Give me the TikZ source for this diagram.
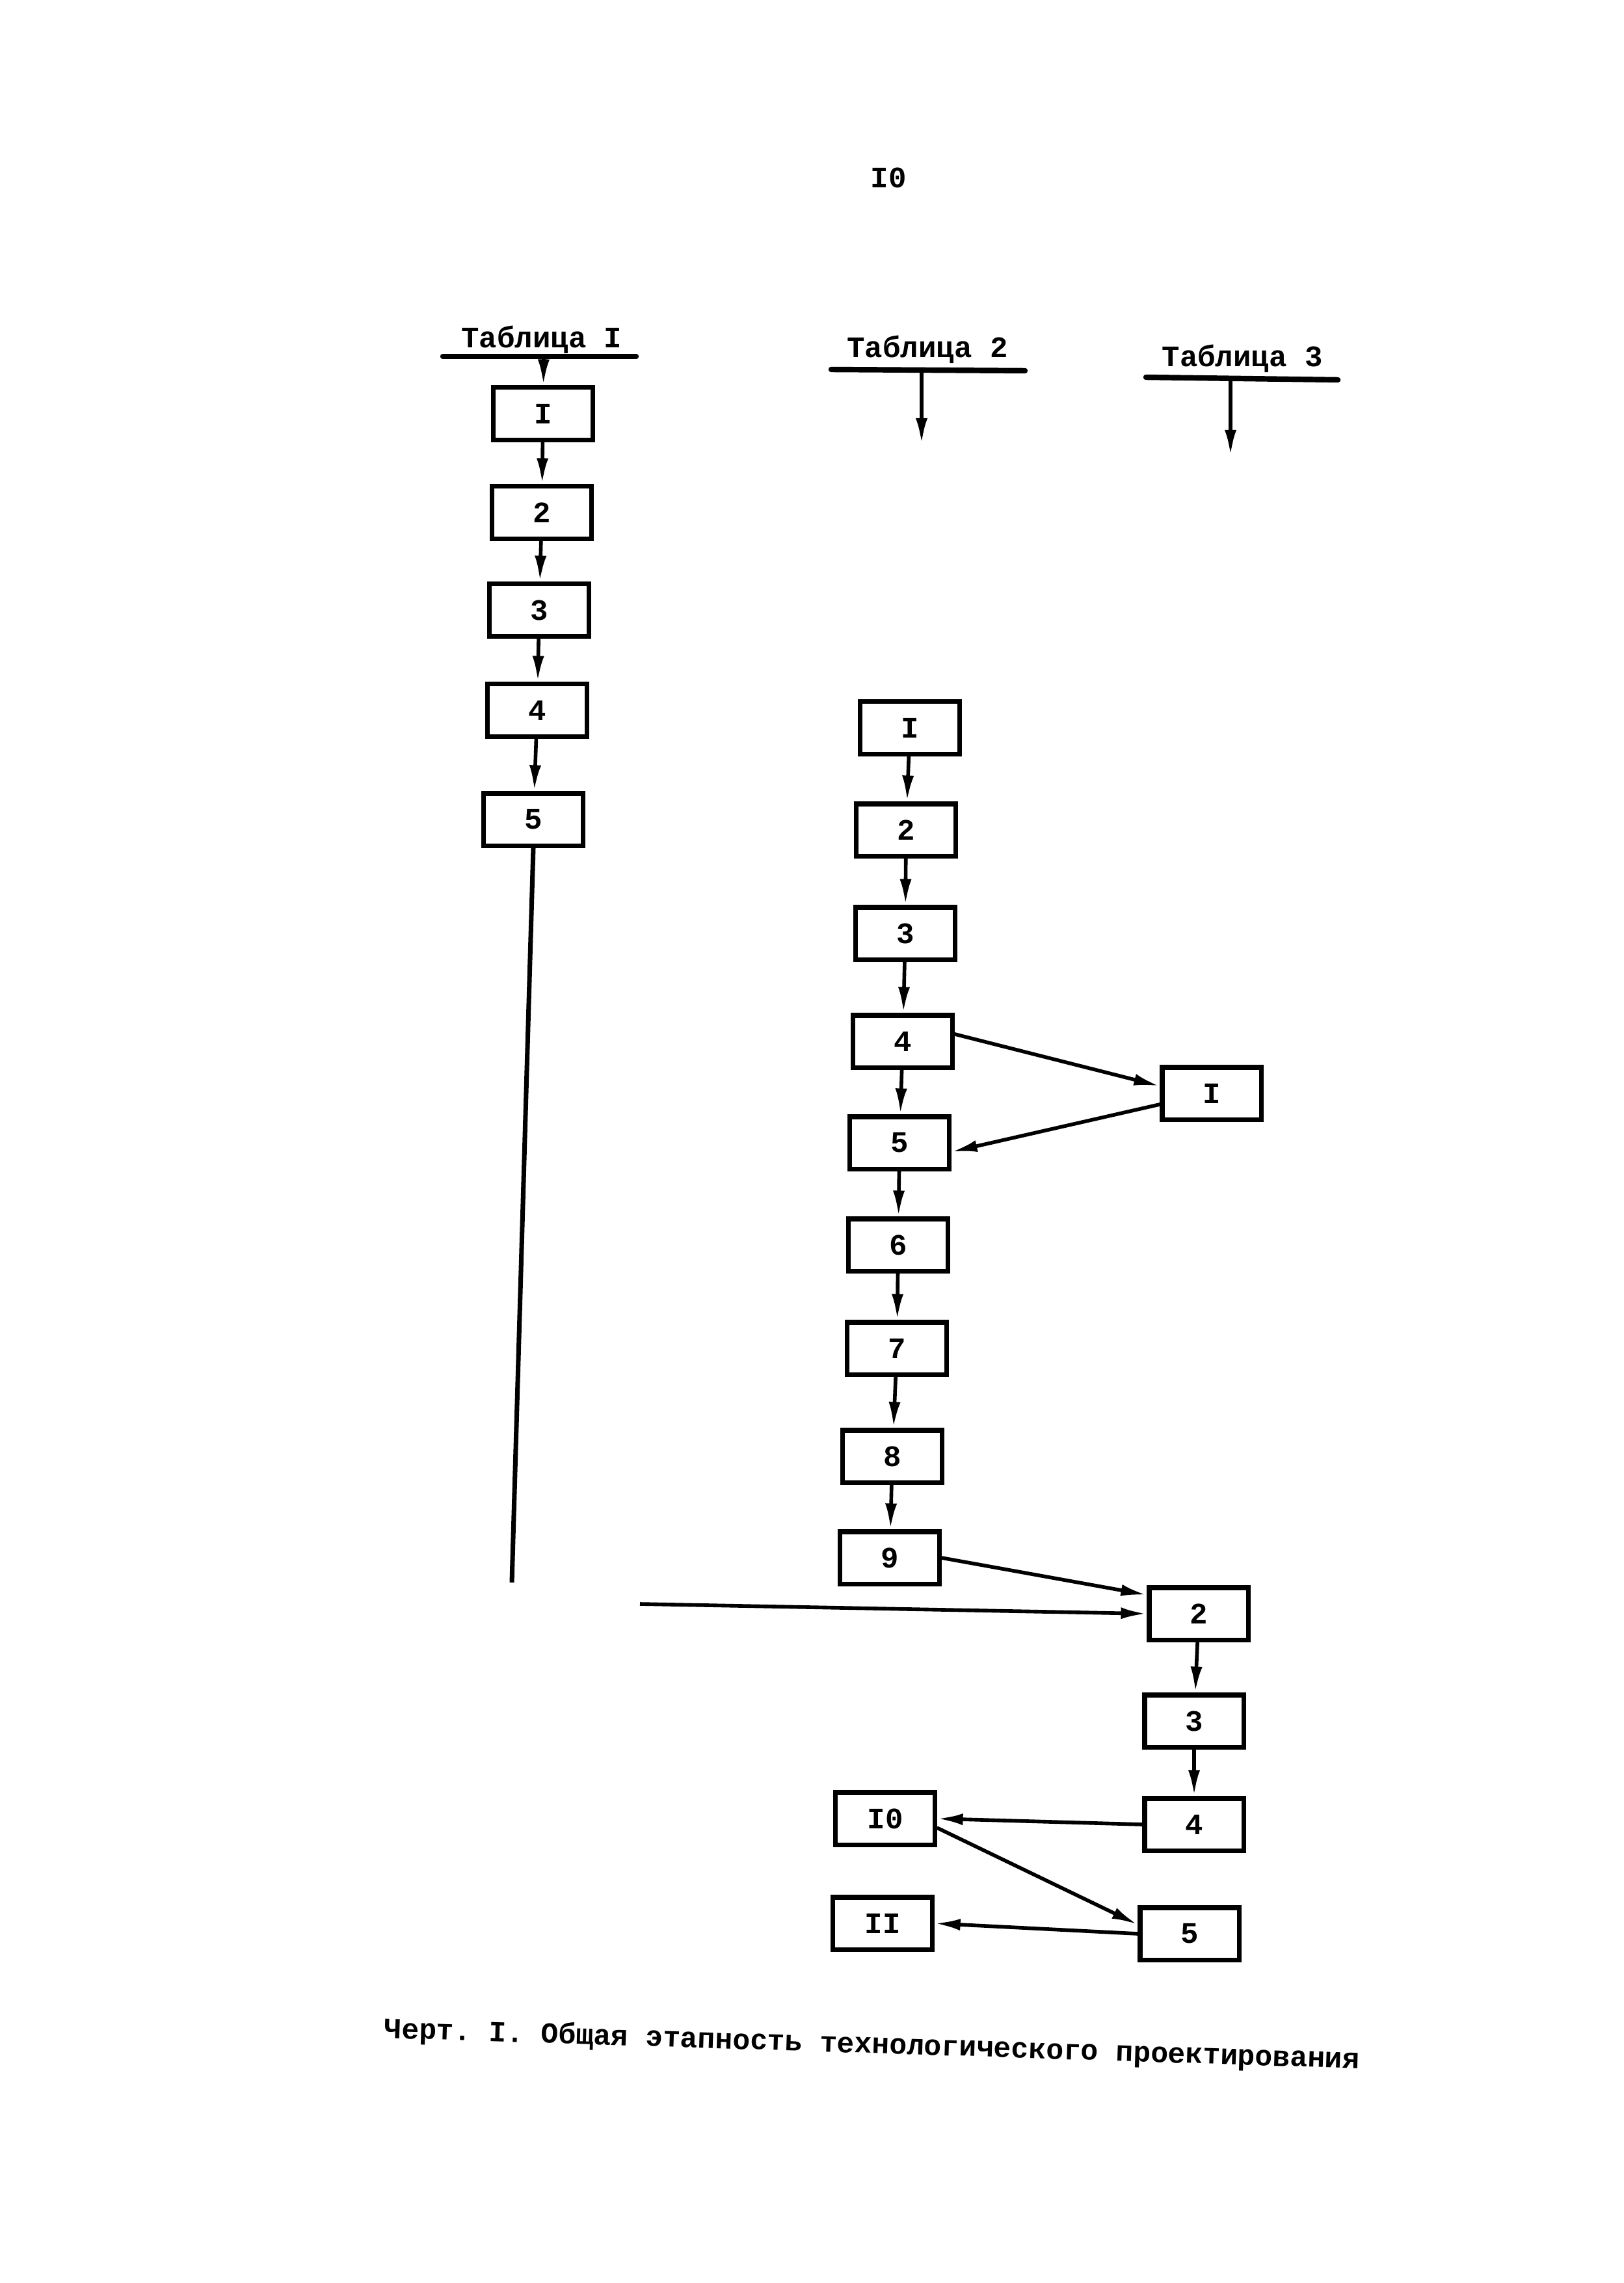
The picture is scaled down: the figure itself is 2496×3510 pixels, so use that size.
\documentclass[tikz,border=0pt]{standalone}
\usepackage{fontspec}
\setmonofont{Liberation Mono}
\usepackage{tikz}
\usetikzlibrary{arrows.meta, positioning}

\begin{document}
\begin{tikzpicture}[
  x=0.01cm, y=-0.01cm,
  box/.style={rectangle, draw, line width=2pt, minimum width=1.52cm,
              minimum height=0.8cm, inner sep=0pt,
              font=\fontsize{13}{15}\selectfont\ttfamily\bfseries},
  label/.style={font=\fontsize{13}{15}\selectfont\ttfamily\bfseries, inner sep=0pt},
  arrow/.style={-{Latex[length=4mm, width=1.8mm]}, line width=1.6pt},
  wire/.style={line width=2pt},
  hline/.style={line width=2.4pt, line cap=round}
]
  \useasboundingbox (0,0) rectangle (2496,3510);

  \node[label] (pagenum) at (1366,273) {I0};

  % Table headers
  \node[label] (tab1) at (833,522) {Таблица I};
  \coordinate (tab1l) at (681,548);
  \coordinate (tab1r) at (978,548);
  \coordinate (tab1a) at (836,548);
  \draw[hline] (tab1l) -- (tab1r);

  \node[label] (tab2) at (1426,537) {Таблица 2};
  \coordinate (tab2l) at (1278,568);
  \coordinate (tab2r) at (1576,570);
  \coordinate (tab2a) at (1417,569);
  \coordinate (tab2end) at (1417,683);
  \draw[hline] (tab2l) -- (tab2r);

  \node[label] (tab3) at (1910,551) {Таблица 3};
  \coordinate (tab3l) at (1762,580);
  \coordinate (tab3r) at (2057,584);
  \coordinate (tab3a) at (1892,583);
  \coordinate (tab3end) at (1892,701);
  \draw[hline] (tab3l) -- (tab3r);

  % Table 1
  \node[box] (t1-1) at (835,636) {I};
  \node[box] (t1-2) at (833,788) {2};
  \node[box] (t1-3) at (829,938) {3};
  \node[box] (t1-4) at (826,1092) {4};
  \node[box] (t1-5) at (820,1260) {5};

  % Table 2
  \node[box] (t2-1) at (1399,1119) {I};
  \node[box] (t2-2) at (1393,1276) {2};
  \node[box] (t2-3) at (1392,1435) {3};
  \node[box] (t2-4) at (1388,1601) {4};
  \node[box] (t2-5) at (1383,1757) {5};
  \node[box] (t2-6) at (1381,1914) {6};
  \node[box] (t2-7) at (1379,2073) {7};
  \node[box] (t2-8) at (1372,2239) {8};
  \node[box] (t2-9) at (1368,2395) {9};

  % Table 3
  \node[box] (t3-1) at (1863,1681) {I};
  \node[box] (t3-2) at (1843,2481) {2};
  \node[box] (t3-3) at (1836,2646) {3};
  \node[box] (t3-4) at (1836,2805) {4};
  \node[box] (t3-5) at (1829,2973) {5};
  \node[box] (t3-10) at (1361,2796) {I0};
  \node[box] (t3-11) at (1357,2957) {II};

  \draw[arrow] (tab1a) -- (t1-1);
  \draw[arrow] (t1-1) -- (t1-2);
  \draw[arrow] (t1-2) -- (t1-3);
  \draw[arrow] (t1-3) -- (t1-4);
  \draw[arrow] (t1-4) -- (t1-5);

  \draw[arrow] (tab2a) -- (tab2end);
  \draw[arrow] (tab3a) -- (tab3end);

  \draw[arrow] (t2-1) -- (t2-2);
  \draw[arrow] (t2-2) -- (t2-3);
  \draw[arrow] (t2-3) -- (t2-4);
  \draw[arrow] (t2-4) -- (t2-5);
  \draw[arrow] (t2-5) -- (t2-6);
  \draw[arrow] (t2-6) -- (t2-7);
  \draw[arrow] (t2-7) -- (t2-8);
  \draw[arrow] (t2-8) -- (t2-9);
  \draw[arrow] (t2-4.8) -- (t3-1.172);
  \draw[arrow] (t3-1.192) -- (t2-5.350);
  \draw[arrow] (t2-9.east) -- (t3-2.160);

  % Long branch from table 1
  \coordinate (t1end) at (787,2433);
  \coordinate (t1join) at (984,2466);
  \draw[wire] (t1-5.south) -- (t1end);
  \draw[arrow] (t1join) -- (t3-2.west);

  \draw[arrow] (t3-2) -- (t3-3);
  \draw[arrow] (t3-3) -- (t3-4);
  \draw[arrow] (t3-4.west) -- (t3-10.east);
  \draw[arrow] (t3-10.350) -- (t3-5.170);
  \draw[arrow] (t3-5.west) -- (t3-11.east);

  % Caption
  \node[label, font=\fontsize{12.7}{15}\selectfont\ttfamily\bfseries, rotate=-1.8]
    (caption) at (1341,3145) {Черт. I. Общая этапность технологического проектирования};
\end{tikzpicture}
\end{document}
